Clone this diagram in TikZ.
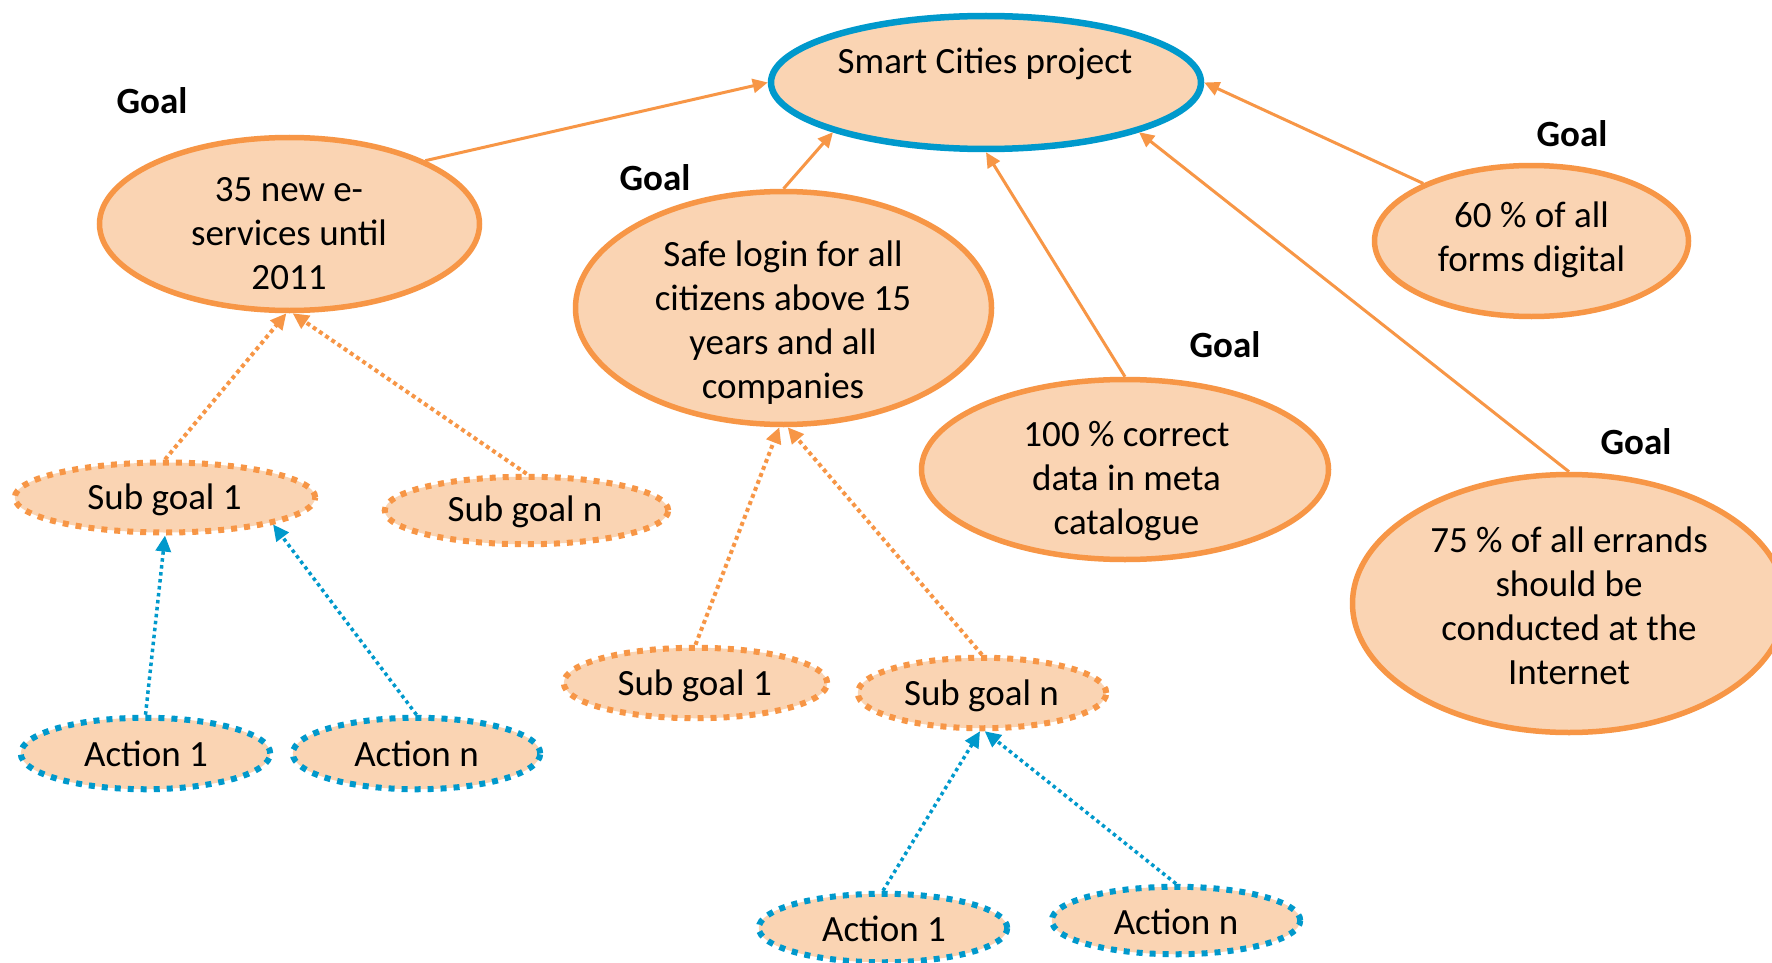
\documentclass[tikz,border=0pt]{standalone}
\usepackage{fontspec}
\setmainfont{Carlito}
\usetikzlibrary{shapes.geometric,arrows.meta}
\definecolor{peach}{HTML}{FAD4B3}
\definecolor{orng}{HTML}{F79646}
\definecolor{blu}{HTML}{0099CC}
\tikzset{
  topE/.style={ellipse, draw=blu, fill=peach, line width=6.5pt, outer sep=3.25pt, inner sep=0pt},
  goalE/.style={ellipse, draw=orng, fill=peach, line width=5.5pt, outer sep=2.75pt, inner sep=0pt},
  subE/.style={ellipse, draw=orng, fill=peach, line width=6pt, line cap=butt, dash pattern=on 6pt off 7pt, outer sep=3pt, inner sep=0pt},
  actE/.style={subE, draw=blu},
  txt/.style={inner sep=0pt, align=center, font=\fontsize{37}{44}\selectfont},
  goallbl/.style={inner sep=0pt, font=\fontsize{37}{44}\selectfont\bfseries},
  link/.style={draw=orng, line width=3pt, -{Triangle[length=15pt,width=14pt]}},
  sublink/.style={draw=orng, line width=4pt, dash pattern=on 4pt off 3.5pt, -{Triangle[length=16pt,width=15pt]}},
  actlink/.style={draw=blu, line width=3.5pt, dash pattern=on 3.5pt off 3.5pt, -{Triangle[length=16pt,width=15pt]}},
}
\begin{document}
\begin{tikzpicture}[x=1pt,y=-1pt]
\useasboundingbox (0,0) rectangle (1772,963);
\fill[white] (0,0) rectangle (1772,963);
\clip (0,0) rectangle (1772,963);

% ellipses
\node[topE, minimum width=430pt, minimum height=133pt] (smart) at (986,82.5) {};
\node[goalE, minimum width=380pt, minimum height=173pt] (e35) at (289.5,224) {};
\node[goalE, minimum width=416pt, minimum height=233pt] (safe) at (783.5,308) {};
\node[goalE, minimum width=407pt, minimum height=180pt] (c100) at (1125,469.5) {};
\node[goalE, minimum width=314pt, minimum height=151pt] (f60) at (1531.5,241) {};
\node[goalE, minimum width=433pt, minimum height=258pt] (e75) at (1569,603.5) {};
\node[subE, minimum width=300.5pt, minimum height=70pt] (sg1L) at (165,497.5) {};
\node[subE, minimum width=283.5pt, minimum height=67.5pt] (sgnL) at (526.5,510.5) {};
\node[actE, minimum width=249.5pt, minimum height=71.5pt] (a1L) at (145.5,753.5) {};
\node[actE, minimum width=247.5pt, minimum height=71.5pt] (anL) at (416.5,753.5) {};
\node[subE, minimum width=263.5pt, minimum height=70.5pt] (sg1M) at (695.5,683) {};
\node[subE, minimum width=248.5pt, minimum height=70.5pt] (sgnM) at (982,693) {};
\node[actE, minimum width=248.5pt, minimum height=68.5pt] (a1M) at (883,928) {};
\node[actE, minimum width=248.5pt, minimum height=67.5pt] (anM) at (1176,920.5) {};

% texts
\node[txt] (tsmart) at (985,64) {Smart Cities project};
\node[txt] (t35) at (289,233.5) {35 new e-\\services until\\2011};
\node[txt] (tsafe) at (783,322.5) {Safe login for all\\citizens above 15\\years and all\\companies};
\node[txt] (t100) at (1126.5,481) {100 \% correct\\data in meta\\catalogue};
\node[txt] (t60) at (1531.5,240) {60 \% of all\\forms digital};
\node[txt] (t75) at (1569,605.5) {75 \% of all errands\\should be\\conducted at the\\Internet};
\node[txt] (tsg1L) at (164.5,500) {Sub goal 1};
\node[txt] (tsgnL) at (525,512) {Sub goal n};
\node[txt] (ta1L) at (146,753.5) {Action 1};
\node[txt] (tanL) at (416.5,753.5) {Action n};
\node[txt] (tsg1M) at (694.7,686) {Sub goal 1};
\node[txt] (tsgnM) at (981.5,696) {Sub goal n};
\node[txt] (ta1M) at (884,929) {Action 1};
\node[txt] (tanM) at (1176,922) {Action n};

% goal labels
\node[goallbl] (g1) at (152,101) {Goal};
\node[goallbl] (g2) at (655,178) {Goal};
\node[goallbl] (g3) at (1225,345) {Goal};
\node[goallbl] (g4) at (1572,134) {Goal};
\node[goallbl] (g5) at (1636,442) {Goal};

% connectors
\draw[link] (e35.25) -- (smart.west);
\draw[link] (safe.north) -- (smart.198);
\draw[link] (c100.north) -- (smart.south);
\draw[link] (f60.152) -- (smart.east);
\draw[link] (e75.north) -- (smart.-18);
\draw[sublink] (sg1L.north) -- (e35.-92);
\draw[sublink] (sgnL.north) -- (e35.-88);
\draw[actlink] (a1L.north) -- (sg1L.south);
\draw[actlink] (anL.north) -- (sg1L.-14);
\draw[sublink] (sg1M.north) -- (safe.-92);
\draw[sublink] (sgnM.north) -- (safe.-88);
\draw[actlink] (a1M.north) -- (sgnM.-93);
\draw[actlink] (anM.north) -- (sgnM.-86);
\end{tikzpicture}
\end{document}
